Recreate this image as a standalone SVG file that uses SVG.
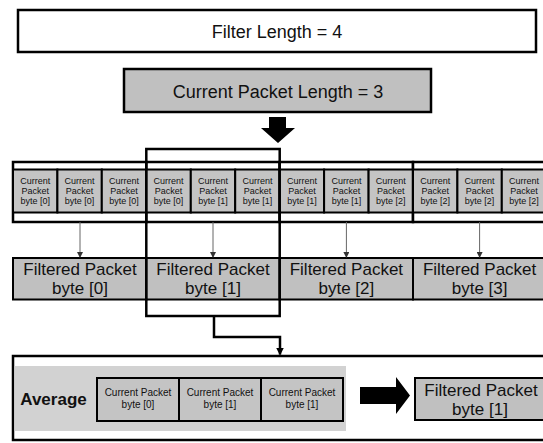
<svg xmlns="http://www.w3.org/2000/svg" width="543" height="443" viewBox="0 0 543 443">
<style>
text{font-family:"Liberation Sans",Arial,sans-serif;fill:#111;text-anchor:middle}
.frame{fill:#fff;stroke:#000;stroke-width:2.5}
.cell{fill:#c4c4c4;stroke:#000;stroke-width:2}
.fbox{fill:#c0c0c0;stroke:#000;stroke-width:2}
.s9{font-size:9px}
.s10{font-size:10px}
.s17{font-size:17px}
.s18{font-size:18px}
.thin{fill:none;stroke:#666;stroke-width:1}
.thick{fill:none;stroke:#000;stroke-width:2.5}
</style>
<defs>
<marker id="ah" markerWidth="6" markerHeight="6" refX="5" refY="3" orient="auto" markerUnits="userSpaceOnUse">
<path d="M0,0 L6,3 L0,6 Z" fill="#333"/>
</marker>
<marker id="ahb" markerWidth="8" markerHeight="8" refX="7" refY="4" orient="auto" markerUnits="userSpaceOnUse">
<path d="M0,0 L8,4 L0,8 Z" fill="#000"/>
</marker>
</defs>

<g id="filter-length">
<rect x="18" y="10" width="518" height="42" fill="#fff" stroke="#000" stroke-width="2.5"/>
<text class="s18" x="277" y="38">Filter Length = 4</text>
</g>

<g id="current-packet-length">
<rect x="124" y="69" width="307" height="43" fill="#c0c0c0" stroke="#000" stroke-width="2.5"/>
<text class="s18" x="278" y="98">Current Packet Length = 3</text>
</g>

<g id="down-arrow">
<path d="M269,117 H286 V128 H295 L278,143 L261,128 H269 Z" fill="#000"/>
</g>

<g id="group-1">
<rect class="frame" x="13" y="162" width="133.3" height="60"/>
<rect class="cell" x="13" y="169.5" width="44.4" height="43"/>
<rect class="cell" x="57.4" y="169.5" width="44.4" height="43"/>
<rect class="cell" x="101.8" y="169.5" width="44.5" height="43"/>
<text class="s9"><tspan x="35.2" y="184">Current</tspan><tspan x="35.2" y="194">Packet</tspan><tspan x="35.2" y="204">byte [0]</tspan></text>
<text class="s9"><tspan x="79.6" y="184">Current</tspan><tspan x="79.6" y="194">Packet</tspan><tspan x="79.6" y="204">byte [0]</tspan></text>
<text class="s9"><tspan x="124" y="184">Current</tspan><tspan x="124" y="194">Packet</tspan><tspan x="124" y="204">byte [0]</tspan></text>
</g>

<g id="group-2">
<rect class="frame" x="146.3" y="162" width="133.4" height="60"/>
<rect class="cell" x="146.3" y="169.5" width="44.5" height="43"/>
<rect class="cell" x="190.8" y="169.5" width="44.4" height="43"/>
<rect class="cell" x="235.2" y="169.5" width="44.5" height="43"/>
<text class="s9"><tspan x="168.5" y="184">Current</tspan><tspan x="168.5" y="194">Packet</tspan><tspan x="168.5" y="204">byte [0]</tspan></text>
<text class="s9"><tspan x="213" y="184">Current</tspan><tspan x="213" y="194">Packet</tspan><tspan x="213" y="204">byte [1]</tspan></text>
<text class="s9"><tspan x="257.5" y="184">Current</tspan><tspan x="257.5" y="194">Packet</tspan><tspan x="257.5" y="204">byte [1]</tspan></text>
</g>

<g id="group-3">
<rect class="frame" x="279.7" y="162" width="133.3" height="60"/>
<rect class="cell" x="279.7" y="169.5" width="44.4" height="43"/>
<rect class="cell" x="324.1" y="169.5" width="44.5" height="43"/>
<rect class="cell" x="368.6" y="169.5" width="44.4" height="43"/>
<text class="s9"><tspan x="301.9" y="184">Current</tspan><tspan x="301.9" y="194">Packet</tspan><tspan x="301.9" y="204">byte [1]</tspan></text>
<text class="s9"><tspan x="346.4" y="184">Current</tspan><tspan x="346.4" y="194">Packet</tspan><tspan x="346.4" y="204">byte [1]</tspan></text>
<text class="s9"><tspan x="390.8" y="184">Current</tspan><tspan x="390.8" y="194">Packet</tspan><tspan x="390.8" y="204">byte [2]</tspan></text>
</g>

<g id="group-4">
<rect class="frame" x="413" y="162" width="133.3" height="60"/>
<rect class="cell" x="413" y="169.5" width="44.4" height="43"/>
<rect class="cell" x="457.4" y="169.5" width="44.4" height="43"/>
<rect class="cell" x="501.8" y="169.5" width="44.5" height="43"/>
<text class="s9"><tspan x="435.2" y="184">Current</tspan><tspan x="435.2" y="194">Packet</tspan><tspan x="435.2" y="204">byte [2]</tspan></text>
<text class="s9"><tspan x="479.6" y="184">Current</tspan><tspan x="479.6" y="194">Packet</tspan><tspan x="479.6" y="204">byte [2]</tspan></text>
<text class="s9"><tspan x="524" y="184">Current</tspan><tspan x="524" y="194">Packet</tspan><tspan x="524" y="204">byte [2]</tspan></text>
</g>

<g id="filtered-0">
<rect class="fbox" x="13" y="258" width="133.3" height="41.5"/>
<text class="s17"><tspan x="80" y="274.5">Filtered Packet</tspan><tspan x="80" y="294">byte [0]</tspan></text>
</g>
<g id="filtered-1">
<rect class="fbox" x="146.3" y="258" width="133.4" height="41.5"/>
<text class="s17"><tspan x="213" y="274.5">Filtered Packet</tspan><tspan x="213" y="294">byte [1]</tspan></text>
</g>
<g id="filtered-2">
<rect class="fbox" x="279.7" y="258" width="133.3" height="41.5"/>
<text class="s17"><tspan x="346.4" y="274.5">Filtered Packet</tspan><tspan x="346.4" y="294">byte [2]</tspan></text>
</g>
<g id="filtered-3">
<rect class="fbox" x="413" y="258" width="133.3" height="41.5"/>
<text class="s17"><tspan x="479.6" y="274.5">Filtered Packet</tspan><tspan x="479.6" y="294">byte [3]</tspan></text>
</g>

<g id="window">
<rect x="146.3" y="149" width="133.4" height="167" fill="none" stroke="#000" stroke-width="2.5"/>
</g>

<g id="average-block">
<rect x="13" y="356" width="540" height="84" fill="#fff" stroke="#000" stroke-width="2.5"/>
<rect x="14.5" y="366" width="331.5" height="65" fill="#d2d2d2"/>
<text x="53.5" y="405" font-size="17" font-weight="bold">Average</text>
<rect class="cell" x="97" y="378" width="82" height="43"/>
<rect class="cell" x="179" y="378" width="82" height="43"/>
<rect class="cell" x="261" y="378" width="82" height="43"/>
<text class="s10"><tspan x="138" y="396">Current Packet</tspan><tspan x="138" y="408">byte [0]</tspan></text>
<text class="s10"><tspan x="220" y="396">Current Packet</tspan><tspan x="220" y="408">byte [1]</tspan></text>
<text class="s10"><tspan x="302" y="396">Current Packet</tspan><tspan x="302" y="408">byte [1]</tspan></text>
<path d="M360,387 H396 V377 L410,395.5 L396,414 V404 H360 Z" fill="#000"/>
</g>

<g id="filtered-result">
<rect class="fbox" x="415" y="378" width="140" height="42"/>
<text class="s17"><tspan x="481" y="396">Filtered Packet</tspan><tspan x="480" y="415">byte [1]</tspan></text>
</g>

<g id="connectors">
<line class="thin" x1="80" y1="222" x2="80" y2="257" marker-end="url(#ah)"/>
<line class="thin" x1="213" y1="222" x2="213" y2="257" marker-end="url(#ah)"/>
<line class="thin" x1="346.4" y1="222" x2="346.4" y2="257" marker-end="url(#ah)"/>
<line class="thin" x1="479.6" y1="222" x2="479.6" y2="257" marker-end="url(#ah)"/>
<path class="thick" d="M214,316 V337 H280 V354.5" marker-end="url(#ahb)"/>
</g>
</svg>
